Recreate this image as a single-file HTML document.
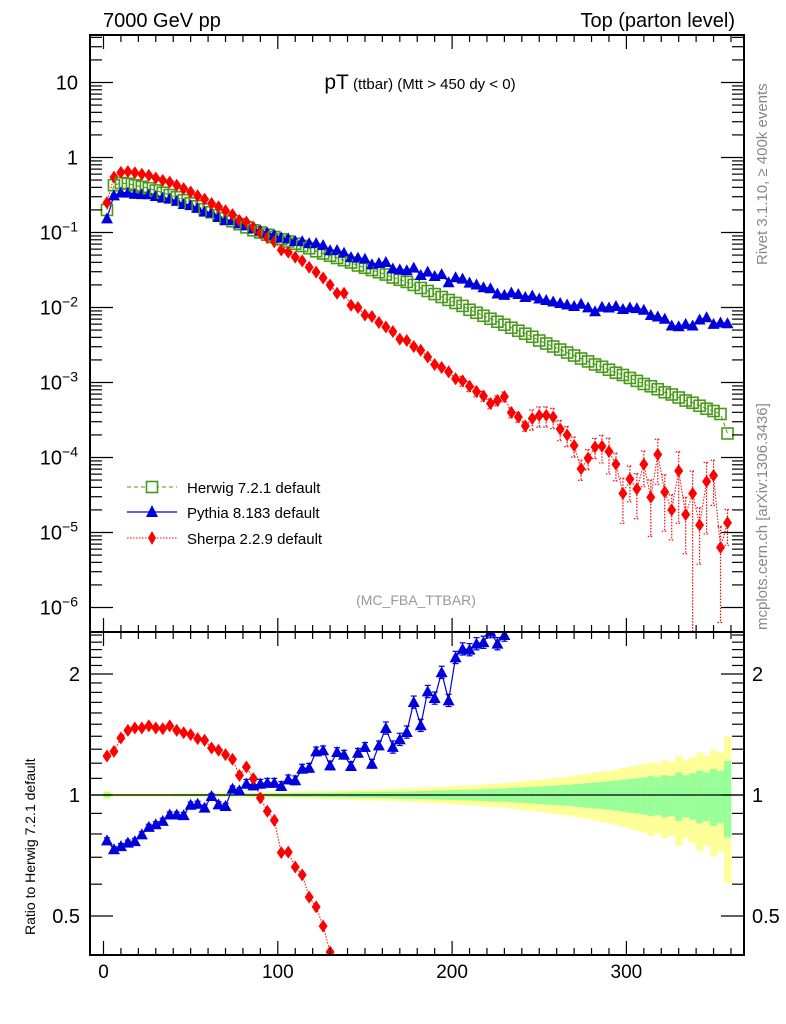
<!DOCTYPE html>
<html><head><meta charset="utf-8"><style>
html,body{margin:0;padding:0;background:#fff;width:786px;height:1024px;overflow:hidden;}
svg{display:block;font-family:"Liberation Sans",Arial,sans-serif;}
</style></head><body>
<svg id="chart" width="786" height="1024" viewBox="0 0 786 1024">
<defs>
<clipPath id="cm"><rect x="90" y="35" width="654" height="597"/></clipPath>
<clipPath id="cr"><rect x="90" y="632" width="654" height="323"/></clipPath>
</defs>
<g id="bands" clip-path="url(#cr)"></g>
<g id="marks"></g>
<g id="axes"></g>
<text x="103" y="27" font-size="20">7000 GeV pp</text>
<text x="735" y="27" font-size="20" text-anchor="end">Top (parton level)</text>
<text x="420" y="89" text-anchor="middle"><tspan font-size="21">pT</tspan><tspan font-size="15"> (ttbar) (Mtt &gt; 450 dy &lt; 0)</tspan></text>
<text x="416" y="605" font-size="14" fill="#999" text-anchor="middle">(MC_FBA_TTBAR)</text>
<text transform="translate(767,265) rotate(-90)" font-size="15" fill="#888">Rivet 3.1.10, ≥ 400k events</text>
<text transform="translate(767,630) rotate(-90)" font-size="15" fill="#888">mcplots.cern.ch [arXiv:1306.3436]</text>
<text transform="translate(35,935) rotate(-90)" font-size="14">Ratio to Herwig 7.2.1 default</text>
<g>
 <g>
  <line x1="127" y1="487" x2="177" y2="487" stroke="#4a9a1a" stroke-dasharray="4,3"/>
  <rect x="146.5" y="481.5" width="11" height="11" fill="#fff" stroke="#4a9a1a" stroke-width="1.6"/>
  <text x="187" y="493" font-size="15">Herwig 7.2.1 default</text>
 </g>
 <g>
  <line x1="127" y1="512" x2="177" y2="512" stroke="#0000dd" stroke-width="1.3"/>
  <polygon points="152,505 158,517 146,517" fill="#0000dd"/>
  <text x="187" y="518" font-size="15">Pythia 8.183 default</text>
 </g>
 <g>
  <line x1="127" y1="538" x2="177" y2="538" stroke="#ff0000" stroke-dasharray="1.5,1.5"/>
  <polygon points="152,531 156,538 152,545 148,538" fill="#ff0000"/>
  <text x="187" y="544" font-size="15">Sherpa 2.2.9 default</text>
 </g>
</g>
</svg>
<script>
const binCenters = Array.from({length:90},(_, i)=>2+4*i);
const herwig = [0.200,0.427,0.457,0.447,0.427,0.407,0.389,0.363,0.339,0.316,
0.295,0.269,0.245,0.224,0.204,0.186,0.170,0.155,0.141,0.129,
0.117,0.107,0.100,0.0933,0.0871,0.0813,0.0759,0.0708,0.0661,0.0617,
0.0562,0.0525,0.0490,0.0457,0.0427,0.0398,0.0363,0.0339,0.0316,0.0295,
0.0275,0.0251,0.0234,0.0219,0.0200,0.0182,0.0166,0.0151,0.0138,0.0126,
0.0115,0.0105,0.00933,0.00851,0.00776,0.00708,0.00646,0.00589,0.00537,0.00490,
0.00447,0.00407,0.00363,0.00331,0.00302,0.00275,0.00251,0.00229,0.00209,0.00191,
0.00174,0.00162,0.00148,0.00135,0.00126,0.00115,0.00105,0.000955,0.000891,0.000813,
0.000741,0.000692,0.000631,0.000575,0.000537,0.000490,0.000447,0.000417,0.000380,0.000209];
const herwigErr = [0.012,0.004,0.004,0.004,0.004,0.004,0.004,0.004,0.004,0.004,
0.005,0.005,0.005,0.005,0.005,0.005,0.006,0.006,0.006,0.006,
0.006,0.007,0.007,0.007,0.008,0.008,0.008,0.009,0.009,0.01,
0.01,0.011,0.011,0.012,0.012,0.013,0.013,0.014,0.014,0.015,
0.015,0.016,0.017,0.017,0.018,0.019,0.02,0.021,0.022,0.023,
0.024,0.025,0.026,0.027,0.028,0.03,0.031,0.032,0.034,0.036,
0.038,0.04,0.042,0.044,0.046,0.048,0.05,0.053,0.056,0.059,
0.062,0.065,0.068,0.072,0.076,0.08,0.084,0.088,0.095,0.09,
0.1,0.095,0.115,0.1,0.11,0.125,0.115,0.135,0.125,0.18];
const pythiaRatio = [0.771,0.733,0.746,0.761,0.768,0.798,0.833,0.846,0.862,0.894,
0.894,0.891,0.946,0.951,0.930,0.994,0.948,0.939,1.037,1.027,
1.067,1.057,1.067,1.073,1.073,1.053,1.094,1.088,1.163,1.169,
1.284,1.292,1.185,1.279,1.260,1.181,1.274,1.317,1.196,1.329,
1.468,1.317,1.376,1.435,1.703,1.491,1.81,1.743,2.02,1.72,
2.20,2.31,2.30,2.38,2.40,2.55,2.38,2.50,
2.95,3.09,3.09,3.55,3.63,3.80,3.98,4.17,4.37,4.57,5.37,5.25,5.13,6.31,6.76,7.76,7.59,8.71,9.33,9.77,
8.91,9.33,9.55,8.32,8.91,10.5,10.7,14.1,16.6,14.5,16.6,29.5];
const pythiaErr = [0.015,0.015,0.015,0.015,0.015,0.015,0.015,0.015,0.015,0.015,
0.015,0.015,0.015,0.015,0.015,0.015,0.015,0.015,0.015,0.015,
0.025,0.025,0.025,0.025,0.025,0.025,0.025,0.025,0.025,0.025,
0.025,0.025,0.025,0.025,0.025,0.025,0.025,0.025,0.025,0.025,
0.035,0.035,0.035,0.035,0.035,0.035,0.035,0.035,0.035,0.035,
0.035,0.035,0.035,0.035,0.035,0.035,0.035,0.035,0.035,0.035,
0.05,0.05,0.05,0.05,0.05,0.05,0.05,0.05,0.05,0.05,
0.05,0.05,0.05,0.05,0.05,0.05,0.05,0.05,0.05,0.05,
0.05,0.05,0.05,0.05,0.05,0.05,0.05,0.05,0.05,0.05];
const sherpaRatio = [1.250,1.284,1.386,1.448,1.468,1.468,1.486,1.468,1.462,1.486,
1.448,1.428,1.413,1.381,1.368,1.309,1.292,1.260,1.227,1.119,
1.174,1.098,0.983,0.911,0.865,0.719,0.721,0.662,0.633,0.557,
0.527,0.472,0.407,
0.339,0.363,0.269,0.275,0.234,0.240,0.214,0.200,0.191,0.162,
0.166,0.151,0.148,0.132,0.115,0.115,0.110,0.0977,0.100,0.0955,
0.0891,0.0851,0.0741,0.0891,0.110,0.0741,0.0708,0.0589,0.0813,0.100,
0.110,0.115,0.0871,0.0794,0.0631,0.0339,0.0513,0.0794,0.0871,0.0813,
0.0603,0.0263,0.0447,0.0363,0.0851,0.0331,0.135,0.0468,0.0288,0.105,
0.0302,0.0617,0.0257,0.107,0.138,0.0166,0.0646];
const sherpaErr = [0.02,0.02,0.02,0.02,0.02,0.02,0.02,0.02,0.02,0.02,
0.02,0.02,0.02,0.02,0.02,0.02,0.02,0.02,0.02,0.02,
0.02,0.02,0.02,0.02,0.02,0.02,0.02,0.02,0.02,0.02,
0.04,0.04,0.04,0.04,0.04,0.04,0.04,0.04,0.04,0.04,0.04,
0.08,0.08,0.08,0.08,0.08,0.08,0.08,0.08,0.08,0.08,
0.15,0.15,0.15,0.15,0.15,0.15,0.15,0.15,0.15,0.15,
0.3,0.3,0.3,0.3,0.3,0.3,0.3,0.3,0.3,0.3,
0.4,0.5,0.4,0.6,0.5,0.6,0.5,0.7,0.6,0.7,0.6,0.8,0.7,0.99,0.7,0.8,0.6,0.9,0.5];
const xTicks = [0,100,200,300];
const ratioTicks = [0.5,1,2];
const logTicks = [-6,-5,-4,-3,-2,-1,0,1];

const NS = "http://www.w3.org/2000/svg";
const X0 = 90, X1 = 744, YT = 35, YM = 632, YB = 955;
const clampY = (y, lo, hi) => Math.max(lo, Math.min(hi, y));
const xs = u => 103.5 + u*1.743;
const ym = v => clampY(157.5 - 75*Math.log10(v), 25, 645);
const yr = r => clampY(795 - 402*Math.log10(r), 620, 968);
const inRatio = r => r > 0.37 && r < 2.7;
function mk(tag, attrs, parent){
  const e = document.createElementNS(NS, tag);
  for (const k in attrs) e.setAttribute(k, attrs[k]);
  parent.appendChild(e); return e;
}
const bands = document.getElementById('bands');
const marks = document.getElementById('marks');
const axes = document.getElementById('axes');

binCenters.forEach((c,i)=>{
  const x0 = xs(c-2), w = xs(c+2)-xs(c-2);
  const ey = Math.min(herwigErr[i]*2.2, 0.6), eg = herwigErr[i]*1.2;
  const y = mk('rect',{x:x0,y:yr(1+ey),width:w+0.3,height:yr(1-ey)-yr(1+ey),fill:'#ffff99'},bands);
  
  
  const g = mk('rect',{x:x0,y:yr(1+eg),width:w+0.3,height:yr(1-eg)-yr(1+eg),fill:'#99ff99'},bands);
  
  
});
const oneLine = mk('line',{x1:X0,x2:X1,y1:yr(1),y2:yr(1),stroke:'#000','stroke-width':1.3},bands);



const gm = mk('g',{'clip-path':'url(#cm)'},marks);


const gr = mk('g',{'clip-path':'url(#cr)'},marks);



const pythia = herwig.map((h,i)=>h*pythiaRatio[i]);
const sherpa = herwig.map((h,i)=>h*sherpaRatio[i]);

function polyline(parent, pts, attrs, name){
  const p = mk('polyline', Object.assign({points:pts.map(p=>p.join(',')).join(' '),fill:'none'},attrs), parent);
  
  
}
polyline(gm, herwig.map((v,i)=>[xs(binCenters[i]),ym(v)]), {stroke:'#4a9a1a','stroke-dasharray':'4,3'}, 'herwig-line');
polyline(gm, pythia.map((v,i)=>[xs(binCenters[i]),ym(v)]), {stroke:'#0000dd','stroke-width':1.2}, 'pythia-line');
polyline(gm, sherpa.map((v,i)=>[xs(binCenters[i]),ym(v)]), {stroke:'#ff0000','stroke-dasharray':'1.5,1.5'}, 'sherpa-line');
polyline(gr, pythiaRatio.map((v,i)=>[xs(binCenters[i]),yr(v)]).filter((p,i)=>i<60), {stroke:'#0000dd','stroke-width':1.2}, 'pythia-ratio-line');
polyline(gr, sherpaRatio.map((v,i)=>[xs(binCenters[i]),yr(v)]).filter((p,i)=>i<34), {stroke:'#ff0000','stroke-dasharray':'1.5,1.5'}, 'sherpa-ratio-line');

function errbar(parent, x, y1, y2, color, dash, name){
  const g = mk('g',{stroke:color,'stroke-width':1.2},parent);
  if (dash) g.setAttribute('stroke-dasharray', dash);
  
  
  mk('line',{x1:x,x2:x,y1:y1,y2:y2},g);
  mk('line',{x1:x-3,x2:x+3,y1:y1,y2:y1},g);
  mk('line',{x1:x-3,x2:x+3,y1:y2,y2:y2},g);
}
function tri(parent,x,y,name){
  const p = mk('polygon',{points:`${x},${y-6} ${x+6},${y+5} ${x-6},${y+5}`,fill:'#0000dd'},parent);
  
  
}
function dia(parent,x,y,name){
  const p = mk('polygon',{points:`${x},${y-6.5} ${x+4.5},${y} ${x},${y+6.5} ${x-4.5},${y}`,fill:'#ff0000'},parent);
  
  
}
function sq(parent,x,y,name){
  const p = mk('rect',{x:x-5.5,y:y-5.5,width:11,height:11,fill:'none',stroke:'#4a9a1a','stroke-width':1.6},parent);
  
  
}
binCenters.forEach((c,i)=>{
  const x = xs(c);
  if (sherpaErr[i] > 0.1) errbar(gm, x, ym(sherpa[i]*(1+sherpaErr[i])), ym(Math.max(sherpa[i]*(1-sherpaErr[i]),1e-8)), '#ff0000', '1.5,1.5', 'sherpa-error');
  sq(gm, x, ym(herwig[i]), 'herwig-point');
  tri(gm, x, ym(pythia[i]), 'pythia-point');
  dia(gm, x, ym(sherpa[i]), 'sherpa-point');
  if (inRatio(pythiaRatio[i])) {
    errbar(gr, x, yr(pythiaRatio[i]*(1+pythiaErr[i])), yr(pythiaRatio[i]*(1-pythiaErr[i])), '#0000dd', null, 'pythia-ratio-error');
    tri(gr, x, yr(pythiaRatio[i]), 'pythia-ratio-point');
  }
  if (inRatio(sherpaRatio[i])) dia(gr, x, yr(sherpaRatio[i]), 'sherpa-ratio-point');
});

const f1 = mk('rect',{x:X0,y:YT,width:X1-X0,height:YM-YT,fill:'none',stroke:'#000','stroke-width':2},axes);


const f2 = mk('rect',{x:X0,y:YM,width:X1-X0,height:YB-YM,fill:'none',stroke:'#000','stroke-width':2},axes);



function tick(x1,y1,x2,y2){ mk('line',{x1,y1,x2,y2,stroke:'#000','stroke-width':1.2},axes); }
for (let u=0; u<=360; u+=10){
  const x = xs(u), L = (u%100===0)?14:7;
  [YT, YM].forEach(y=>tick(x,y,x,y+L));
  [YM, YB].forEach(y=>tick(x,y,x,y-L));
}
xTicks.forEach(t=>{
  const tx = mk('text',{x:xs(t),y:978,'font-size':19,'text-anchor':'middle'},axes);
  tx.textContent = t;
  
  
});
logTicks.forEach(n=>{
  for (let m=1;m<10;m++){
    const v = m*Math.pow(10,n), y = 157.5 - 75*Math.log10(v);
    if (y < YT || y > YM) continue;
    const L = m===1?23:12;
    tick(X0,y,X0+L,y); tick(X1,y,X1-L,y);
  }
  const y = 157.5 - 75*n;
  const t = mk('text',{x:78,y:y+7,'font-size':20,'text-anchor':'end'},axes);
  
  
  if (n===1) t.textContent='10';
  else if (n===0) t.textContent='1';
  else { t.textContent='10'; const s = mk('tspan',{dy:-8,'font-size':14},t); s.textContent = '\u2212'+(-n); }
});
for (let v=0.4; v<=2.55; v+=0.1){
  const r = Math.round(v*10)/10, y = 795 - 402*Math.log10(r);
  if (y < YM || y > YB) continue;
  const major = ratioTicks.includes(r);
  const L = major?23:12;
  tick(X0,y,X0+L,y); tick(X1,y,X1-L,y);
}
ratioTicks.forEach(r=>{
  const y = 795 - 402*Math.log10(r);
  const a = mk('text',{x:80,y:y+7,'font-size':20,'text-anchor':'end'},axes);
  a.textContent = r;
  
  
  const b = mk('text',{x:752,y:y+7,'font-size':20},axes);
  b.textContent = r;
  
  
});
</script>
</body></html>
